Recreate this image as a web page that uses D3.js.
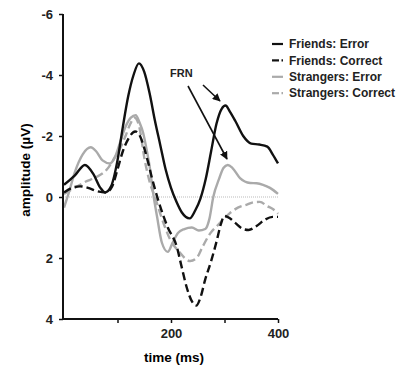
<!DOCTYPE html>
<html>
<head>
<meta charset="utf-8">
<script src="https://cdn.jsdelivr.net/npm/d3@7"></script>
<style>
  body { margin: 0; background: #fff; }
  svg text { font-family: "Liberation Sans", Arial, sans-serif; font-weight: bold; }
</style>
</head>
<body>
<svg id="chart" width="410" height="369"></svg>
<script>
// time (ms) / amplitude (µV) pairs
const friendsError = [
  [0, -0.4], [20, -0.7], [39, -1.05], [55, -0.75], [68, -0.3], [77, -0.15], [88, -0.35],
  [100, -1.2], [110, -2.3], [120, -3.3], [130, -4.0], [140, -4.38], [150, -4.1],
  [160, -3.4], [170, -2.5], [180, -1.7], [190, -0.9], [200, -0.3], [210, 0.15],
  [220, 0.5], [235, 0.7], [245, 0.45], [255, 0.05], [265, -0.6], [275, -1.5],
  [285, -2.4], [295, -2.9], [302, -3.0], [310, -2.8], [320, -2.5], [335, -2.0],
  [350, -1.75], [365, -1.72], [380, -1.65], [390, -1.4], [400, -1.1]
];
const friendsCorrect = [
  [0, -0.15], [15, -0.3], [30, -0.35], [45, -0.3], [60, -0.2], [78, -0.15],
  [90, -0.35], [100, -0.9], [110, -1.5], [120, -1.9], [133, -2.15], [142, -2.0],
  [150, -1.6], [157, -1.15], [164, -0.65], [176, 0.1], [194, 1.0], [211, 1.64],
  [220, 2.3], [230, 3.0], [240, 3.45], [247, 3.56], [255, 3.3], [264, 2.7],
  [275, 2.1], [286, 1.4], [293, 0.9], [300, 0.62], [310, 0.7], [320, 0.85],
  [335, 1.05], [345, 1.08], [360, 0.95], [375, 0.75], [390, 0.65], [400, 0.65]
];
const strangersError = [
  [0, 0.35], [10, -0.2], [20, -0.8], [35, -1.4], [50, -1.63], [60, -1.5],
  [72, -1.2], [86, -1.1], [95, -1.3], [105, -1.8], [115, -2.3], [125, -2.6],
  [134, -2.68], [141, -2.45], [148, -2.1], [155, -1.5], [161, -0.9], [166, -0.2],
  [174, 0.65], [183, 1.5], [194, 1.8], [203, 1.5], [213, 1.18], [225, 1.05],
  [239, 1.0], [252, 1.1], [264, 1.05], [272, 0.7], [279, 0.0], [290, -0.6],
  [298, -0.95], [306, -1.05], [315, -0.95], [329, -0.62], [348, -0.46],
  [360, -0.45], [372, -0.4], [385, -0.3], [400, -0.1]
];
const strangersCorrect = [
  [0, -0.1], [20, -0.3], [40, -0.5], [60, -0.65], [80, -0.9], [95, -1.3],
  [105, -1.6], [115, -2.0], [124, -2.4], [132, -2.6], [140, -2.35], [151, -1.2],
  [160, -0.5], [170, 0.0], [180, 0.55], [189, 1.0], [200, 1.45], [213, 1.75],
  [236, 2.1], [248, 2.0], [260, 1.6], [273, 1.2], [286, 0.95], [300, 0.7],
  [310, 0.53], [325, 0.35], [342, 0.25], [355, 0.17], [366, 0.16], [380, 0.3],
  [391, 0.4], [400, 0.55]
];
const seriesNames = ['Friends: Error', 'Friends: Correct', 'Strangers: Error', 'Strangers: Correct'];
const yTicks = [-6, -4, -2, 0, 2, 4];
const xTicks = [100, 200, 300, 400];
const xTickLabels = ['', '200', '', '400'];

const series = [
  { name: seriesNames[0], values: friendsError, colour: '#111', dash: null },
  { name: seriesNames[1], values: friendsCorrect, colour: '#111', dash: '8,4' },
  { name: seriesNames[2], values: strangersError, colour: '#aaa', dash: null },
  { name: seriesNames[3], values: strangersCorrect, colour: '#aaa', dash: '8,4' }
];

const svg = d3.select('#chart');
const x = d3.scaleLinear().domain([0, 400]).range([64, 278]);
const y = d3.scaleLinear().domain([-6, 4]).range([14, 319]);

// dotted zero line
svg.append('line')
  .attr('x1', 63).attr('x2', x(400))
  .attr('y1', y(0)).attr('y2', y(0))
  .attr('stroke', '#bbb').attr('stroke-width', 1).attr('stroke-dasharray', '1,1');

const line = d3.line()
  .x(d => x(d[0])).y(d => y(d[1]))
  .curve(d3.curveMonotoneX);

// draw grey ones first, black on top
[2, 3, 1, 0].forEach(i => {
  const s = series[i];
  svg.append('path')
    .attr('d', line(s.values))
    .attr('fill', 'none')
    .attr('stroke', s.colour)
    .attr('stroke-width', 2.4)
    .attr('stroke-dasharray', s.dash);
});

// axes
const yAxis = svg.append('g').attr('transform', 'translate(63,0)')
  .call(d3.axisLeft(y).tickValues(yTicks).tickSize(4).tickPadding(6).tickFormat(d => String(d)));
const xAxis = svg.append('g').attr('transform', `translate(0,${y(4)})`)
  .call(d3.axisBottom(x).tickValues(xTicks).tickSize(4).tickPadding(6).tickFormat((d, i) => xTickLabels[i]));
[yAxis, xAxis].forEach(a => {
  a.select('.domain').remove();
  a.selectAll('.tick line').attr('stroke', '#111').attr('stroke-width', 1.5);
  a.selectAll('.tick text').attr('fill', '#222').style('font-size', '13px')
    .style('font-family', '"Liberation Sans", Arial, sans-serif').style('font-weight', 'bold');
});
svg.append('path')
  .attr('d', `M63,${y(-6)}V${y(4)}H${x(400)}`)
  .attr('fill', 'none').attr('stroke', '#111').attr('stroke-width', 2);

svg.append('text')
  .attr('x', 174).attr('y', 362)
  .attr('text-anchor', 'middle')
  .style('font-size', '13.5px')
  .text('time (ms)');
svg.append('text')
  .attr('transform', 'translate(30,170) rotate(-90)')
  .attr('text-anchor', 'middle')
  .style('font-size', '13.5px')
  .text('amplitude (\u00b5V)');

// legend
const legend = svg.append('g').attr('transform', 'translate(272,44)');
series.forEach((s, i) => {
  const g = legend.append('g').attr('transform', `translate(0,${i * 16.4})`);
  if (s.dash) {
    g.append('line').attr('x1', 0).attr('x2', 7).attr('y1', 0).attr('y2', 0)
      .attr('stroke', s.colour).attr('stroke-width', 2.2);
    g.append('line').attr('x1', 9.5).attr('x2', 11).attr('y1', 0).attr('y2', 0)
      .attr('stroke', s.colour).attr('stroke-width', 2.2);
  } else {
    g.append('line').attr('x1', 0).attr('x2', 11).attr('y1', 0).attr('y2', 0)
      .attr('stroke', s.colour).attr('stroke-width', 2.2);
  }
  g.append('text').attr('x', 17).attr('y', 4.2)
    .attr('fill', '#222').style('font-size', '12px')
    .text(s.name);
});

// FRN annotation
svg.append('defs').append('marker')
  .attr('id', 'arrow').attr('viewBox', '0 0 10 10')
  .attr('refX', 9).attr('refY', 5)
  .attr('markerWidth', 5).attr('markerHeight', 5)
  .attr('orient', 'auto')
  .append('path').attr('d', 'M0,0L10,5L0,10z').attr('fill', '#111');
svg.append('text').attr('x', 170).attr('y', 77)
  .attr('fill', '#222').style('font-size', '11px').text('FRN');
svg.append('line').attr('x1', 203).attr('y1', 85).attr('x2', 220).attr('y2', 101)
  .attr('stroke', '#111').attr('stroke-width', 1.6).attr('marker-end', 'url(#arrow)');
svg.append('line').attr('x1', 188).attr('y1', 86).attr('x2', 227).attr('y2', 159)
  .attr('stroke', '#111').attr('stroke-width', 1.6).attr('marker-end', 'url(#arrow)');
</script>
</body>
</html>
